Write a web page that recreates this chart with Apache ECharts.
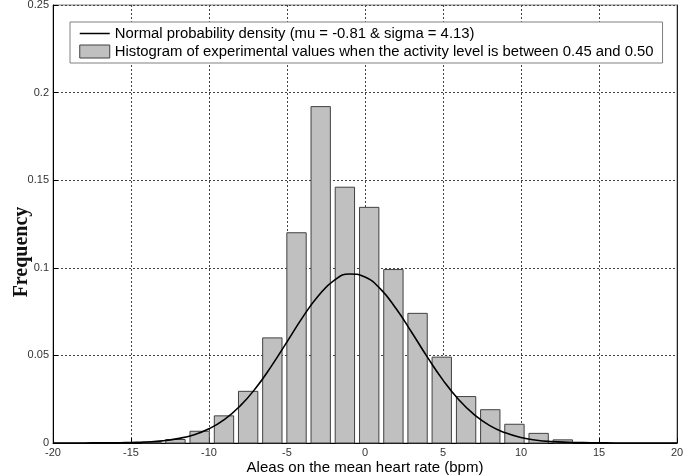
<!DOCTYPE html>
<html>
<head>
<meta charset="utf-8">
<script src="https://cdn.jsdelivr.net/npm/echarts@6/dist/echarts.min.js"></script>
<style>
  html, body { margin: 0; padding: 0; background: #fff; }
  #chart { width: 699px; height: 476px; }
</style>
</head>
<body>
<div id="chart"></div>
<script>
  // histogram bins (centre, frequency)
  const binCenters = [
    -13.70, -12.15, -10.60, -9.04, -7.49, -5.94, -4.39, -2.84, -1.29,
    0.27, 1.82, 3.37, 4.92, 6.48, 8.03, 9.58, 11.13, 12.68,
  ];
  const binFreq = [
    0.0005, 0.002, 0.0067, 0.0155, 0.0295, 0.060, 0.120, 0.192, 0.146,
    0.1345, 0.099, 0.074, 0.049, 0.0265, 0.019, 0.0107, 0.0055, 0.0018,
  ];
  // normal density curve read at integer x
  const curveX = [
    -20, -19, -18, -17, -16, -15, -14, -13, -12, -11, -10, -9, -8, -7, -6, -5, -4, -3, -2, -1,
    0, 1, 2, 3, 4, 5, 6, 7, 8, 9, 10, 11, 12, 13, 14, 15, 16, 17, 18, 19, 20,
  ];
  const curveY = [
    0, 0, 0, 0.0001, 0.0001, 0.0003, 0.0006, 0.0012, 0.0025, 0.0046, 0.0081, 0.0135, 0.0212,
    0.0314, 0.0439, 0.0577, 0.0717, 0.0839, 0.0927, 0.0965,
    0.0947, 0.0878, 0.0766, 0.0631, 0.049, 0.0359, 0.0248, 0.0162, 0.0099, 0.0058, 0.0031,
    0.0016, 0.0008, 0.0004, 0.0002, 0.0001, 0, 0, 0, 0, 0,
  ];

  const curveName = 'Normal probability density (mu = -0.81 & sigma = 4.13)';
  const histName = 'Histogram of experimental values when the activity level is between 0.45 and 0.50';
  const binWidth = 1.24;

  const chart = echarts.init(document.getElementById('chart'));
  const gridLine = { show: true, lineStyle: { color: '#444', type: [2, 2], width: 1 } };

  const option = {
    animation: false,
    backgroundColor: '#fff',
    grid: {
      left: 53, right: 22, top: 5, bottom: 33,
      outerBoundsMode: 'none',
      show: true, borderColor: '#808080', borderWidth: 1,
    },
    legend: {
      orient: 'vertical',
      left: 70, top: 22,
      padding: [4, 9, 4, 9],
      itemGap: 3,
      itemWidth: 30, itemHeight: 13,
      backgroundColor: '#fff',
      borderColor: '#808080', borderWidth: 1, borderRadius: 0,
      textStyle: { fontFamily: 'Liberation Sans', fontSize: 14.85, color: '#000' },
      data: [
        {
          name: curveName,
          itemStyle: { color: 'rgba(0,0,0,0)', borderWidth: 0 },
          lineStyle: { color: '#000', width: 1.5 },
        },
        { name: histName, icon: 'rect', itemStyle: { color: '#c0c0c0', borderColor: '#404040', borderWidth: 1 } },
      ],
    },
    xAxis: {
      type: 'value',
      min: -20, max: 20, interval: 5,
      name: 'Aleas on the mean heart rate (bpm)',
      nameLocation: 'middle', nameGap: 17,
      nameMoveOverlap: false,
      nameTextStyle: { fontFamily: 'Liberation Sans', fontSize: 15, color: '#000' },
      axisLine: { onZero: false, lineStyle: { color: '#000', width: 1 } },
      axisTick: { inside: true, length: 5, lineStyle: { color: '#000' } },
      axisLabel: { fontFamily: 'Liberation Sans', fontSize: 11, color: '#333', margin: 4 },
      splitLine: gridLine,
    },
    yAxis: [
      {
        type: 'value',
        min: 0, max: 0.25, interval: 0.05,
        axisLine: { show: true, onZero: false, lineStyle: { color: '#000', width: 1 } },
        axisTick: { show: true, inside: true, length: 5, lineStyle: { color: '#000' } },
        axisLabel: { fontFamily: 'Liberation Sans', fontSize: 11, color: '#333', margin: 4 },
        splitLine: gridLine,
      },
      {
        type: 'value',
        position: 'right',
        min: 0, max: 0.25, interval: 0.05,
        axisLine: { show: true, onZero: false, lineStyle: { color: '#222', width: 1 } },
        axisTick: { show: false },
        axisLabel: { show: false },
        splitLine: { show: false },
      },
    ],
    graphic: [
      {
        type: 'text',
        x: 22, y: 252,
        rotation: Math.PI / 2,
        style: {
          text: 'Frequency',
          font: 'bold 20px "Liberation Serif"',
          fill: '#111',
          align: 'center', verticalAlign: 'middle',
        },
      },
    ],
    series: [
      {
        name: histName,
        type: 'custom',
        itemStyle: { color: '#c0c0c0', borderColor: '#404040', borderWidth: 1 },
        encode: { x: 0, y: 1 },
        data: binCenters.map((c, i) => [c, binFreq[i]]),
        renderItem: (params, api) => {
          const x = api.value(0);
          const y = api.value(1);
          const p0 = api.coord([x - binWidth / 2, y]);
          const p1 = api.coord([x + binWidth / 2, 0]);
          return {
            type: 'rect',
            shape: { x: p0[0], y: p0[1], width: p1[0] - p0[0], height: p1[1] - p0[1] },
            style: { fill: '#c0c0c0', stroke: '#404040', lineWidth: 1 },
          };
        },
        z: 2,
      },
      {
        name: curveName,
        type: 'line',
        smooth: true,
        symbol: 'none',
        lineStyle: { color: '#000', width: 1.6 },
        itemStyle: { color: '#000' },
        data: curveX.map((x, i) => [x, curveY[i]]),
        z: 3,
      },
    ],
  };
  chart.setOption(option);
</script>
</body>
</html>
